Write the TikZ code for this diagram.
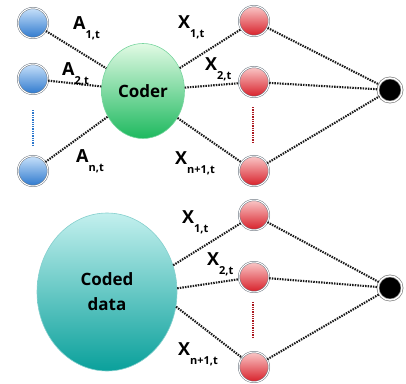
\documentclass[tikz,border=0pt]{standalone}
\usepackage{fontspec}
\setmainfont{Open Sans}
\usetikzlibrary{shapes.geometric}
\definecolor{blueT}{RGB}{200,225,250}
\definecolor{blueB}{RGB}{45,120,205}
\definecolor{redT}{RGB}{250,200,200}
\definecolor{redB}{RGB}{215,30,40}
\definecolor{greenT}{RGB}{225,250,228}
\definecolor{greenB}{RGB}{30,185,95}
\definecolor{tealT}{RGB}{195,240,238}
\definecolor{tealB}{RGB}{10,160,155}
\definecolor{rimC}{RGB}{110,120,130}
\newcommand\lab[2]{#1\raisebox{-9pt}{\fontsize{11}{11}\selectfont #2}}
\tikzset{
  ball/.style={circle, minimum size=30pt, inner sep=0pt, draw=rimC, line width=0.5pt, double=white, double distance=1pt},
  bluecirc/.style={ball, top color=blueT, bottom color=blueB},
  redcirc/.style={ball, top color=redT, bottom color=redB},
  outcirc/.style={circle, minimum size=24pt, inner sep=0pt, fill=black, draw=gray, line width=0.7pt, double=white, double distance=1.4pt},
  blob/.style={ellipse, inner sep=0pt, draw=greenB!60, line width=0.6pt, font=\fontsize{17}{25}\selectfont\bfseries, align=center},
  link/.style={draw=black!90, line width=2.1pt, dash pattern=on 1.5pt off 1.1pt},
  lbl/.style={anchor=base west, inner sep=0pt, font=\fontsize{18}{18}\selectfont\bfseries},
}
\begin{document}
\begin{tikzpicture}[x=1pt,y=-1pt]
\useasboundingbox (0,0) rectangle (406,383);
% top part
\node[bluecirc] (b1) at (33,23) {};
\node[bluecirc] (b2) at (33,79) {};
\node[bluecirc] (b3) at (33,171) {};
\coordinate (bd1) at (33,110);
\coordinate (bd2) at (33,146);
\draw[blueB, line width=1.8pt, dash pattern=on 1.3pt off 1pt] (bd1) -- (bd2);
\node[blob, minimum width=83pt, minimum height=95pt, top color=greenT, bottom color=greenB] (coder) at (143,91) {Coder};
\node[redcirc] (r1) at (254,21) {};
\node[redcirc] (r2) at (254,82) {};
\node[redcirc] (r3) at (254,171) {};
\coordinate (rd1) at (253,107);
\coordinate (rd2) at (253,143);
\draw[redB!80!black, line width=1.8pt, dash pattern=on 1.3pt off 1pt] (rd1) -- (rd2);
\node[outcirc] (o1) at (390,90) {};
\draw[link] (b1) -- (coder);
\draw[link] (b2) -- (coder);
\draw[link] (b3) -- (coder);
\draw[link] (coder.32) -- (r1);
\draw[link] (coder) -- (r2);
\draw[link] (coder.-38) -- (r3);
\draw[link] (r1) -- (o1);
\draw[link] (r2) -- (o1);
\draw[link] (r3) -- (o1);
\node[lbl] (la1) at (73,29) {\lab{A}{1,t}};
\node[lbl] (la2) at (62,75) {\lab{A}{2,t}};
\node[lbl] (la3) at (76,162) {\lab{A}{n,t}};
\node[lbl] (lx1) at (178,28) {\lab{X}{1,t}};
\node[lbl] (lx2) at (205,70) {\lab{X}{2,t}};
\node[lbl] (lx3) at (175,164) {\lab{X}{n+1,t}};
% bottom part
\node[blob, draw=tealB!50, minimum width=140pt, minimum height=158pt, top color=tealT, bottom color=tealB] (cd) at (107,292) {Coded\\data};
\node[redcirc] (s1) at (254,215) {};
\node[redcirc] (s2) at (254,277) {};
\node[redcirc] (s3) at (254,367) {};
\coordinate (sd1) at (253,302);
\coordinate (sd2) at (253,338);
\draw[redB!80!black, line width=1.8pt, dash pattern=on 1.3pt off 1pt] (sd1) -- (sd2);
\node[outcirc] (o2) at (390,288) {};
\draw[link] (cd.22) -- (s1);
\draw[link] (cd.3) -- (s2);
\draw[link] (cd.-12) -- (s3);
\draw[link] (s1) -- (o2);
\draw[link] (s2) -- (o2);
\draw[link] (s3) -- (o2);
\node[lbl] (ly1) at (182,223) {\lab{X}{1,t}};
\node[lbl] (ly2) at (207,265) {\lab{X}{2,t}};
\node[lbl] (ly3) at (178,355) {\lab{X}{n+1,t}};
\end{tikzpicture}
\end{document}
